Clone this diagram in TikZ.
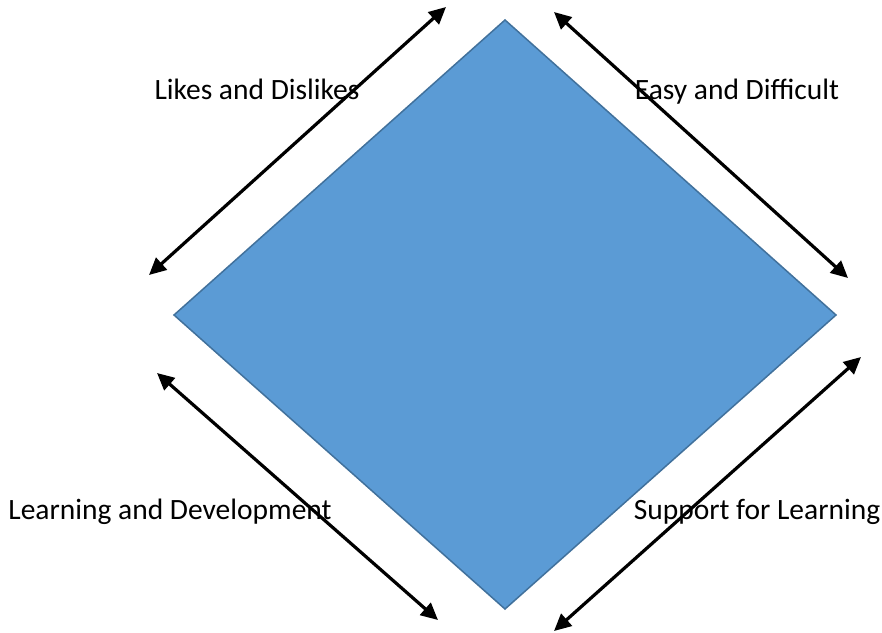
\documentclass[tikz,border=0pt]{standalone}
\usepackage{fontspec}
\setmainfont{Carlito}
\usetikzlibrary{arrows.meta}
\definecolor{dfill}{HTML}{5B9BD5}
\definecolor{dline}{HTML}{41719C}
\tikzset{
  px/.style={x=1pt,y=-1pt},
  dbl/.style={line width=3.2pt,{Triangle[length=17pt,width=16pt]}-{Triangle[length=17pt,width=16pt]}},
  lbl/.style={font=\fontsize{29.5}{35}\selectfont,anchor=base,inner sep=0pt}
}
\begin{document}
\begin{tikzpicture}[px]
\useasboundingbox (0,0) rectangle (882,632);
\coordinate (T) at (505,20);
\coordinate (R) at (836,315);
\coordinate (B) at (505,609);
\coordinate (L) at (174,315);
\filldraw[fill=dfill,draw=dline,line width=1.5pt,line join=miter] (T) -- (R) -- (B) -- (L) -- cycle;
\node[lbl] (t1) at (257,99) {Likes and Dislikes};
\node[lbl] (t2) at (737,99) {Easy and Difficult};
\node[lbl] (t3) at (170,519) {Learning and Development};
\node[lbl] (t4) at (757,519) {Support for Learning};
\coordinate (a1) at (149,275); \coordinate (a2) at (446,7);
\coordinate (b1) at (554,12); \coordinate (b2) at (848,278);
\coordinate (c1) at (157,373); \coordinate (c2) at (438,620);
\coordinate (d1) at (861,357); \coordinate (d2) at (554,631);
\draw[dbl] (a1) -- (a2);
\draw[dbl] (b1) -- (b2);
\draw[dbl] (c1) -- (c2);
\draw[dbl] (d1) -- (d2);
\end{tikzpicture}
\end{document}
